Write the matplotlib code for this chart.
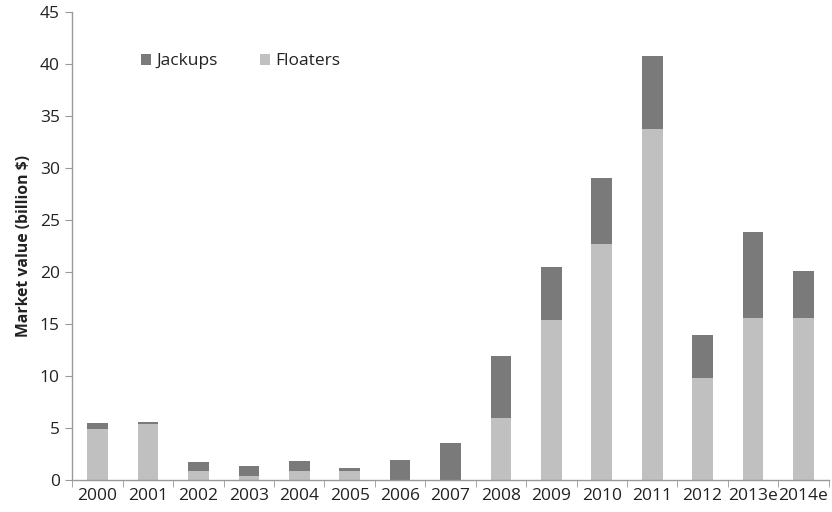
import matplotlib
matplotlib.use("Agg")
import matplotlib.pyplot as plt
import numpy as np

years = ["2000", "2001", "2002", "2003", "2004", "2005", "2006", "2007",
         "2008", "2009", "2010", "2011", "2012", "2013e", "2014e"]
floaters = [4.9, 5.4, 0.9, 0.4, 0.9, 0.9, 0.0, 0.0,
            6.0, 15.4, 22.7, 33.8, 9.8, 15.6, 15.6]
jackups = [0.6, 0.2, 0.8, 0.9, 0.9, 0.3, 1.9, 3.6,
           5.9, 5.1, 6.3, 7.0, 4.1, 8.2, 4.5]

plt.rcParams["font.family"] = ["Open Sans", "DejaVu Sans"]

fig = plt.figure(figsize=(8.32, 5.12), dpi=100)
ax = fig.add_axes([0.087, 0.0625, 0.909, 0.914])

x = np.arange(len(years))
w = 0.41
ax.bar(x, jackups, w, bottom=floaters, color="#7a7a7a", label="Jackups", zorder=2)
ax.bar(x, floaters, w, color="#c0c0c0", label="Floaters", zorder=2)

ax.set_xlim(-0.5, len(years) - 0.5)
ax.set_ylim(0, 45)
ax.set_yticks(np.arange(0, 46, 5))
ax.set_xticks(x)
ax.set_xticklabels(years)
ax.set_xticks(np.arange(-0.5, len(years), 1), minor=True)
ax.tick_params(axis="x", which="major", length=0, labelsize=12.5, pad=6, labelcolor="#222222")
ax.tick_params(axis="x", which="minor", length=5, color="#999999", direction="out")
ax.tick_params(axis="y", length=5, color="#999999", labelsize=12.5, labelcolor="#222222", pad=4)

for s in ["top", "right"]:
    ax.spines[s].set_visible(False)
for s in ["left", "bottom"]:
    ax.spines[s].set_color("#999999")
    ax.spines[s].set_linewidth(1.0)

ax.set_ylabel("Market value (billion $)", fontsize=11.3, fontweight="bold", color="#222222", labelpad=6)

leg = ax.legend(loc="upper left", bbox_to_anchor=(0.07, 0.945), ncol=2, frameon=False,
                fontsize=12.5, handlelength=0.6, handleheight=0.6, handletextpad=0.3,
                columnspacing=2.4)
for t in leg.get_texts():
    t.set_color("#222222")

fig.savefig("out.png", dpi=100)
